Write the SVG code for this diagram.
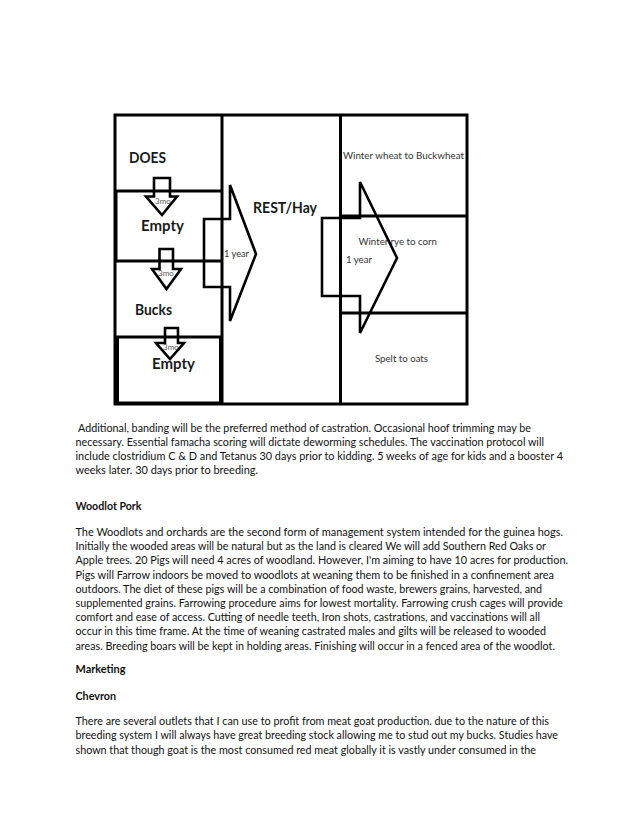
<svg xmlns="http://www.w3.org/2000/svg" width="638" height="826" viewBox="0 0 638 826">
<style>
.ln{fill:none;stroke:#000;stroke-width:3;stroke-linejoin:miter}
.ar{fill:none;stroke:#000;stroke-width:2.6;stroke-linejoin:miter}
.big{font-family:Lato,"Open Sans","Liberation Sans",sans-serif;font-weight:bold;font-size:15.5px;fill:#1a1a1a}
.sm{font-family:Lato,"Open Sans","Liberation Sans",sans-serif;font-size:10px;fill:#333}
.mo{font-family:Lato,"Open Sans","Liberation Sans",sans-serif;font-size:8px;fill:#555}
.p{font-family:Lato,"Open Sans","Liberation Sans",sans-serif;font-size:11px;fill:#111}
.h{font-family:Lato,"Open Sans","Liberation Sans",sans-serif;font-size:11px;font-weight:bold;fill:#111}
</style>
<rect width="638" height="826" fill="#fff"/>
<g id="frame">
<rect class="ln" x="115" y="115" width="352" height="289" stroke-width="3.4"/>
<line class="ln" x1="222" y1="115" x2="222" y2="404"/>
<line class="ln" x1="340.5" y1="115" x2="340.5" y2="404"/>
</g>
<g id="node-does">
<text class="big" x="129" y="162.5" textLength="37" lengthAdjust="spacingAndGlyphs">DOES</text>
</g>
<g id="node-empty1">
<line class="ln" x1="115" y1="191" x2="222" y2="191"/>
<line class="ln" x1="116" y1="191" x2="116" y2="261" stroke-width="4"/>
<text class="mo" x="155" y="203.5">3mo</text>
<text class="big" x="141" y="230.5" textLength="43" lengthAdjust="spacingAndGlyphs">Empty</text>
</g>
<g id="node-bucks">
<line class="ln" x1="115" y1="261" x2="222" y2="261"/>
<text class="mo" x="158" y="276">3mo</text>
<text class="big" x="135" y="315" textLength="37" lengthAdjust="spacingAndGlyphs">Bucks</text>
</g>
<g id="node-empty2">
<rect class="ln" x="117.5" y="337" width="103" height="66" stroke-width="2.6"/>
<text class="mo" x="163" y="350">3mo</text>
<text class="big" x="152" y="369" textLength="43" lengthAdjust="spacingAndGlyphs">Empty</text>
</g>
<g id="node-rest">
<text class="big" x="253" y="213" textLength="64" lengthAdjust="spacingAndGlyphs">REST/Hay</text>
</g>
<g id="node-wheat">
<text class="sm" x="343" y="159" textLength="121" lengthAdjust="spacingAndGlyphs">Winter wheat to Buckwheat</text>
</g>
<g id="node-rye">
<line class="ln" x1="341" y1="216" x2="467" y2="216"/>
<text class="sm" x="358.5" y="245" textLength="78.5" lengthAdjust="spacingAndGlyphs">Winter rye to corn</text>
</g>
<g id="node-spelt">
<line class="ln" x1="341" y1="313" x2="467" y2="313"/>
<text class="sm" x="375" y="362" textLength="53" lengthAdjust="spacingAndGlyphs">Spelt to oats</text>
</g>
<g id="connectors">
<polygon class="ar" points="154,178 170,178 170,196.5 177,196.5 162,215 146,196.5 154,196.5"/>
<polygon class="ar" points="159.5,249 173,249 173,269 181,269 166.5,289 152,269 159.5,269"/>
<polygon class="ar" points="165,328 178,328 178,343 184,343 170,359 156,343 165,343"/>
<polygon class="ar" points="204,219 230,219 230,185 256,254 230,321 230,287 204,287"/>
<polygon class="ar" points="322,218 360,218 360,182 397,258 360,333 360,296 322,296"/>
<text class="sm" x="224" y="257" textLength="25" lengthAdjust="spacingAndGlyphs">1 year</text>
<text class="sm" x="346" y="263" textLength="26" lengthAdjust="spacingAndGlyphs">1 year</text>
</g>
<g id="body-text">
<text class="p" x="78" y="431.5" textLength="453" lengthAdjust="spacingAndGlyphs">Additional, banding will be the preferred method of castration. Occasional hoof trimming may be</text>
<text class="p" x="75.5" y="445.7" textLength="468.5" lengthAdjust="spacingAndGlyphs">necessary. Essential famacha scoring will dictate deworming schedules. The vaccination protocol will</text>
<text class="p" x="75.5" y="459.9" textLength="487.5" lengthAdjust="spacingAndGlyphs">include clostridium C &amp; D and Tetanus 30 days prior to kidding. 5 weeks of age for kids and a booster 4</text>
<text class="p" x="75.5" y="474.1" textLength="182.5" lengthAdjust="spacingAndGlyphs">weeks later. 30 days prior to breeding.</text>
<text class="h" x="75.5" y="509.6" textLength="66" lengthAdjust="spacingAndGlyphs">Woodlot Pork</text>
<text class="p" x="75.5" y="535.9" textLength="487.5" lengthAdjust="spacingAndGlyphs">The Woodlots and orchards are the second form of  management system intended for the guinea hogs.</text>
<text class="p" x="75.5" y="550.1" textLength="470.5" lengthAdjust="spacingAndGlyphs">Initially the wooded areas will be natural but as the land is cleared We will add Southern Red Oaks or</text>
<text class="p" x="75.5" y="564.3" textLength="492.5" lengthAdjust="spacingAndGlyphs">Apple trees. 20 Pigs will need 4 acres of woodland. However, I'm aiming to have 10 acres for production.</text>
<text class="p" x="75.5" y="578.5" textLength="478.5" lengthAdjust="spacingAndGlyphs">Pigs will Farrow indoors be moved to woodlots at weaning them to be finished in a confinement area</text>
<text class="p" x="75.5" y="592.7" textLength="466.5" lengthAdjust="spacingAndGlyphs">outdoors. The diet of these pigs will be a combination of food waste, brewers grains, harvested, and</text>
<text class="p" x="75.5" y="606.9" textLength="487.5" lengthAdjust="spacingAndGlyphs">supplemented grains. Farrowing procedure aims for lowest mortality. Farrowing crush cages will provide</text>
<text class="p" x="75.5" y="621.1" textLength="464.5" lengthAdjust="spacingAndGlyphs">comfort and ease of access. Cutting of  needle teeth, Iron shots, castrations, and vaccinations will all</text>
<text class="p" x="75.5" y="635.3" textLength="470.5" lengthAdjust="spacingAndGlyphs">occur in this time frame. At the time of weaning castrated males and gilts will be released to wooded</text>
<text class="p" x="75.5" y="649.5" textLength="479.5" lengthAdjust="spacingAndGlyphs">areas. Breeding boars will be kept in holding areas. Finishing will occur in a fenced area of the woodlot.</text>
<text class="h" x="75.5" y="672.9" textLength="50" lengthAdjust="spacingAndGlyphs">Marketing</text>
<text class="h" x="75.5" y="699.9" textLength="40.5" lengthAdjust="spacingAndGlyphs">Chevron</text>
<text class="p" x="75.5" y="725.2" textLength="473.5" lengthAdjust="spacingAndGlyphs">There are several outlets that I can use to profit from meat goat production.  due to the nature of this</text>
<text class="p" x="75.5" y="739.4" textLength="482.5" lengthAdjust="spacingAndGlyphs">breeding system I will always have great breeding stock allowing me to stud out my bucks. Studies have</text>
<text class="p" x="75.5" y="753.6" textLength="460.5" lengthAdjust="spacingAndGlyphs">shown that though goat is the most consumed red meat globally it is vastly under consumed in the</text>
</g>
</svg>
